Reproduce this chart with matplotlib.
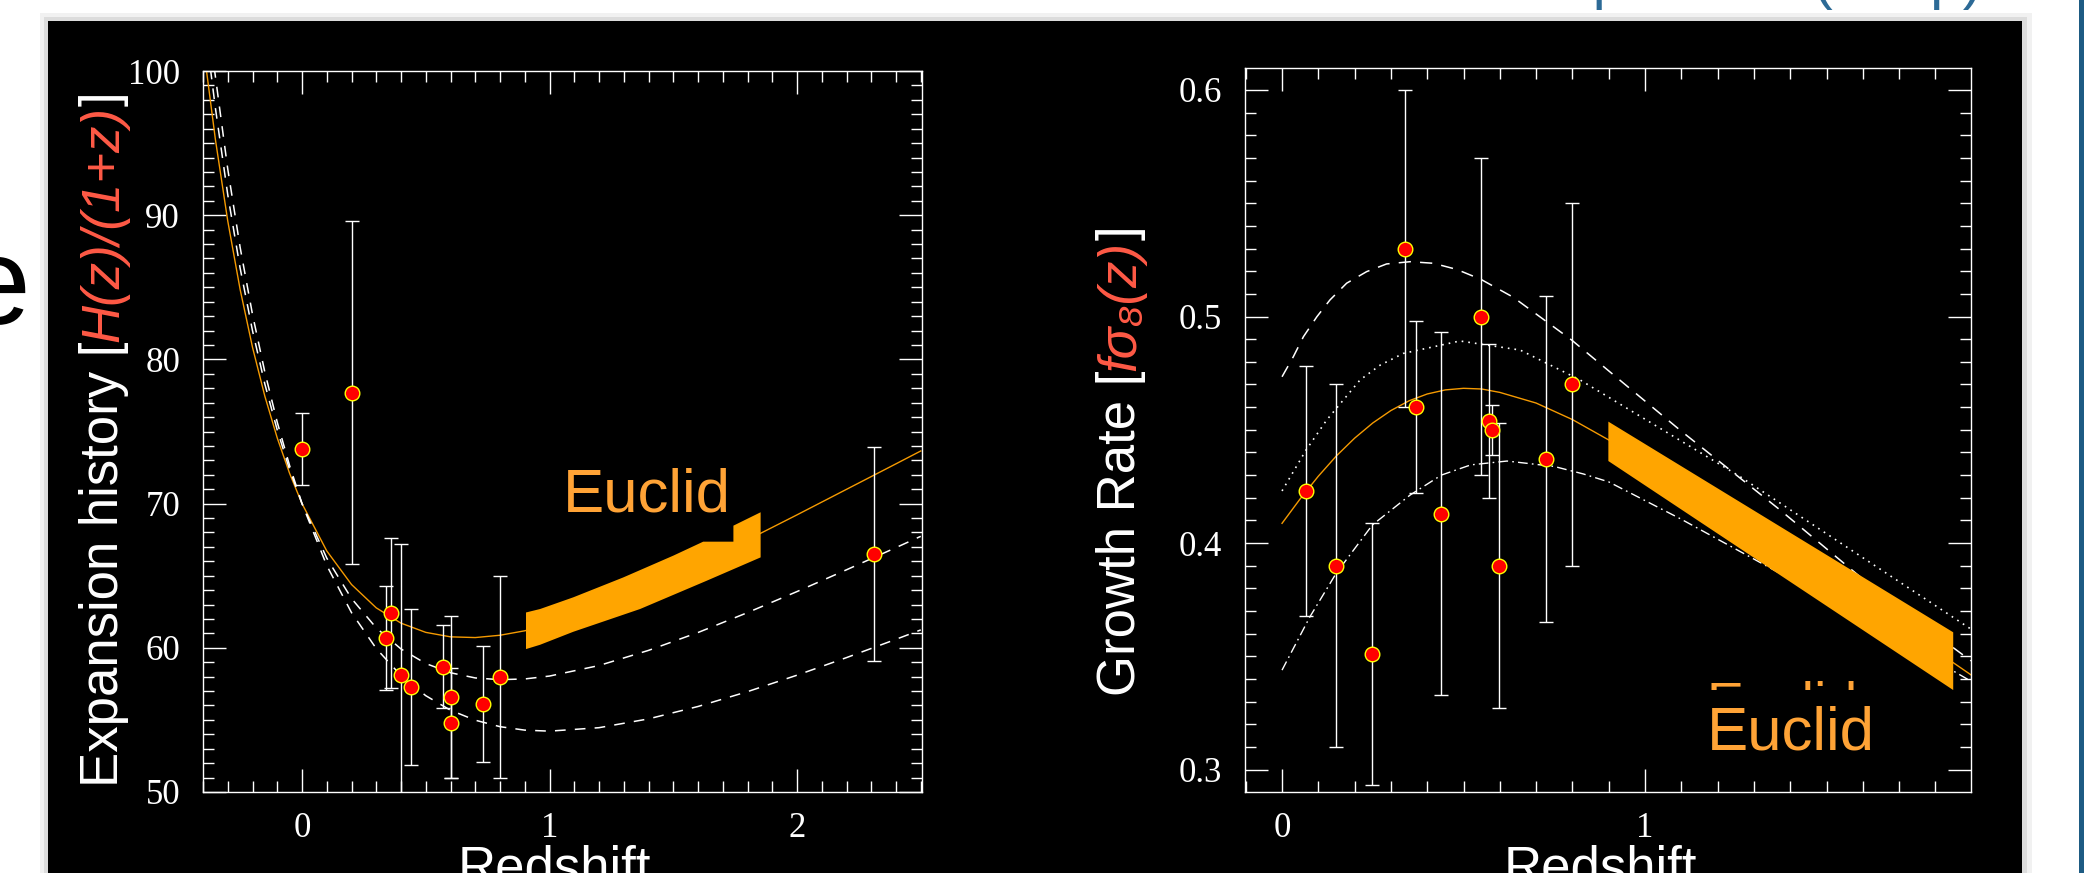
import matplotlib
matplotlib.use("Agg")
import matplotlib.pyplot as plt
from matplotlib.patches import Rectangle
from matplotlib.ticker import MultipleLocator
from matplotlib.transforms import Bbox, TransformedBbox

plt.rcParams["font.family"] = ["Liberation Sans", "DejaVu Sans"]

W, H = 2084, 873
RED = "#FF5A46"
ORANGE = "#FFA500"
LINE_ORANGE = "#F59A00"
TEXT_ORANGE = "#FFA336"
BLUE = "#2C6A96"

# --- left panel: expansion history H(z)/(1+z) ---
hz_z = [0.0, 0.20, 0.34, 0.36, 0.40, 0.44, 0.57, 0.60, 0.60, 0.73, 0.80, 2.31]
hz_val = [73.8, 77.7, 60.7, 62.4, 58.1, 57.3, 58.7, 56.6, 54.8, 56.1, 58.0, 66.5]
hz_err = [2.5, 11.9, 3.6, 5.2, 9.1, 5.4, 2.9, 5.6, 3.8, 4.0, 7.0, 7.4]

model_z = [-0.3, -0.25, -0.2, -0.15, -0.1, -0.05, 0.0, 0.1, 0.2, 0.3, 0.4, 0.5,
           0.6, 0.7, 0.8, 0.9, 1.0, 1.2, 1.4, 1.6, 1.8, 2.0, 2.2, 2.4, 2.5]
fid_z = [-0.39, -0.35] + model_z
fid_h = [100.57, 95.26, 89.60, 84.85, 80.84, 77.44, 74.55, 72.09, 70.00,
         66.72, 64.39, 62.77, 61.71, 61.07, 60.76, 60.71, 60.87, 61.18, 61.62,
         62.79, 64.21, 65.80, 67.48, 69.22, 70.99, 72.76, 73.65]
dashA_z = [-0.37, -0.35] + model_z
dashA_h = [100.16, 97.44, 91.42, 86.33, 81.99, 78.28, 75.10, 72.36, 70.00,
           66.22, 63.42, 61.38, 59.92, 58.91, 58.27, 57.91, 57.79, 57.84, 58.04,
           58.77, 59.82, 61.06, 62.44, 63.90, 65.41, 66.95, 67.73]
dashB_z = [-0.355] + model_z
dashB_h = [100.27, 93.20, 87.77, 83.12, 79.11, 75.64, 72.63, 70.00,
           65.71, 62.44, 59.95, 58.07, 56.68, 55.67, 54.98, 54.53, 54.29, 54.22,
           54.46, 55.07, 55.93, 56.96, 58.10, 59.32, 60.59, 61.24]

band_h_z = [0.905, 0.962, 1.096, 1.298, 1.500, 1.621, 1.743, 1.743, 1.853,
            1.853, 1.635, 1.366, 1.096, 0.962, 0.905]
band_h_v = [62.45, 62.69, 63.50, 64.88, 66.39, 67.36, 67.36, 68.47, 69.40,
            66.27, 64.65, 62.69, 61.11, 60.21, 59.91]

# --- right panel: growth rate f sigma8(z) ---
fs8_z = [0.066, 0.149, 0.249, 0.339, 0.369, 0.439, 0.548, 0.569, 0.579, 0.599, 0.728, 0.798]
fs8_val = [0.423, 0.390, 0.351, 0.530, 0.460, 0.413, 0.500, 0.454, 0.450, 0.390, 0.437, 0.470]
fs8_err = [0.055, 0.080, 0.058, 0.070, 0.038, 0.080, 0.070, 0.034, 0.011, 0.063, 0.072, 0.080]

gr_fid_z = [0.0, 0.05, 0.1, 0.15, 0.2, 0.25, 0.3, 0.35, 0.4, 0.45, 0.5, 0.55,
            0.6, 0.7, 0.8, 0.9, 1.849, 1.898]
gr_fid_f = [0.4087, 0.4195, 0.4295, 0.4385, 0.4463, 0.4530, 0.4585, 0.4628, 0.4658,
            0.4676, 0.4683, 0.4680, 0.4665, 0.4618, 0.4545, 0.4455, 0.3472, 0.3418]
gr_dash_z = [0.0, 0.031, 0.059, 0.096, 0.132, 0.178, 0.233, 0.288, 0.353, 0.417,
             0.481, 0.548, 0.637, 0.798, 0.936, 1.096, 1.372, 1.647, 1.898]
gr_dash_f = [0.4734, 0.4822, 0.4911, 0.4999, 0.5073, 0.5147, 0.5198, 0.5232, 0.5242, 0.5235,
             0.5208, 0.5164, 0.5085, 0.4896, 0.4712, 0.4499, 0.4146, 0.3778, 0.3480]
gr_dot_z = [0.0, 0.066, 0.123, 0.215, 0.27, 0.334, 0.49, 0.656, 0.821, 1.262, 1.898]
gr_dot_f = [0.423, 0.441, 0.4543, 0.472, 0.4785, 0.4837, 0.4892, 0.4852, 0.472, 0.4293, 0.362]
gr_dd_z = [0.0, 0.077, 0.149, 0.249, 0.353, 0.439, 0.52, 0.62, 0.75, 0.83, 0.90,
           1.10, 1.372, 1.65, 1.898]
gr_dd_f = [0.3439, 0.3675, 0.3866, 0.408, 0.4212, 0.430, 0.4345, 0.4362, 0.4338, 0.4305, 0.4270,
           0.4105, 0.3866, 0.362, 0.339]

band_f_z = [0.899, 1.849, 1.849, 0.899]
band_f_v = [0.4536, 0.3606, 0.3351, 0.4362]


def fx(x):
    return x / W


def fy(y):
    return 1 - y / H


fig = plt.figure(figsize=(W / 100, H / 100), dpi=100)
fig.patch.set_facecolor("white")

# slide background: shadow, black panel, blue edge
fig.add_artist(Rectangle((fx(40), 0), fx(2032) - fx(40), fy(13), transform=fig.transFigure,
                         color="#F1F1F1", lw=0, zorder=-12))
fig.add_artist(Rectangle((fx(44), 0), fx(2027) - fx(44), fy(17), transform=fig.transFigure,
                         color="#DCDCDC", lw=0, zorder=-11))
fig.add_artist(Rectangle((fx(48), 0), fx(2022) - fx(48), fy(21), transform=fig.transFigure,
                         color="black", lw=0, zorder=-10))
fig.add_artist(Rectangle((fx(2079), 0), fx(2084) - fx(2079), 1, transform=fig.transFigure,
                         color="#1D5B83", lw=0, zorder=-10))
fig.text(fx(-38), fy(324), "e", fontsize=89, color="black", ha="left", va="baseline")
fig.text(fx(1982), fy(-2), "Growth and expansion (deep)", fontsize=42, color=BLUE,
         ha="right", va="baseline")

axL = fig.add_axes([fx(203), fy(792), fx(922) - fx(203), fy(71) - fy(792)])
axR = fig.add_axes([fx(1245), fy(792), fx(1971) - fx(1245), fy(68) - fy(792)])

for ax in (axL, axR):
    ax.set_facecolor("black")
    for sp in ax.spines.values():
        sp.set_color("white")
        sp.set_linewidth(1.0)
    ax.tick_params(which="both", direction="in", top=True, right=True,
                   colors="white", width=1.0, labelsize=25,
                   labelfontfamily="Liberation Serif")
    ax.tick_params(which="major", length=16.5)
    ax.tick_params(which="minor", length=8)
    ax.tick_params(axis="x", pad=14.5)
    ax.tick_params(axis="y", pad=16.5)

# left panel
axL.set_xlim(-0.40, 2.505)
axL.set_ylim(50, 100)
axL.xaxis.set_major_locator(MultipleLocator(1))
axL.xaxis.set_minor_locator(MultipleLocator(0.1))
axL.yaxis.set_major_locator(MultipleLocator(10))
axL.yaxis.set_minor_locator(MultipleLocator(1))

axL.plot(fid_z, fid_h, color=LINE_ORANGE, lw=1.0, zorder=2)
axL.plot(dashA_z, dashA_h, color="white", lw=1.1, ls=(0, (7, 6)), zorder=2)
axL.plot(dashB_z, dashB_h, color="white", lw=1.1, ls=(0, (7, 6)), zorder=2)
axL.fill(band_h_z, band_h_v, color=ORANGE, lw=0, zorder=4)
axL.errorbar(hz_z, hz_val, yerr=hz_err, fmt="none", ecolor="white", elinewidth=1.0,
             capsize=4.7, capthick=1.0, zorder=3)
axL.plot(hz_z, hz_val, "o", ms=10.5, mfc="red", mec="yellow", mew=1.0, zorder=5)
axL.text(1.053, 72.52, "Euclid", color=TEXT_ORANGE, fontsize=44.5, ha="left", va="top")

# right panel
axR.set_xlim(-0.102, 1.898)
axR.set_ylim(0.2901, 0.6097)
axR.xaxis.set_major_locator(MultipleLocator(1))
axR.xaxis.set_minor_locator(MultipleLocator(0.1))
axR.yaxis.set_major_locator(MultipleLocator(0.1))
axR.yaxis.set_minor_locator(MultipleLocator(0.01))

axR.plot(gr_fid_z, gr_fid_f, color=LINE_ORANGE, lw=1.0, zorder=2)
axR.plot(gr_dash_z, gr_dash_f, color="white", lw=1.1, ls=(0, (8, 6)), zorder=2)
axR.plot(gr_dot_z, gr_dot_f, color="white", lw=1.2, ls=(0, (1, 3)), zorder=2)
axR.plot(gr_dd_z, gr_dd_f, color="white", lw=1.0, ls=(0, (7, 3, 1.2, 3)), zorder=2)
axR.fill(band_f_z, band_f_v, color=ORANGE, lw=0, zorder=4)
axR.errorbar(fs8_z, fs8_val, yerr=fs8_err, fmt="none", ecolor="white", elinewidth=1.0,
             capsize=4.7, capthick=1.0, zorder=3)
axR.plot(fs8_z, fs8_val, "o", ms=10.5, mfc="red", mec="yellow", mew=1.0, zorder=5)

ghost = axR.text(1.170, 0.3393, "Euclid", color=TEXT_ORANGE, fontsize=40, ha="left",
                 va="top", clip_on=True)
ghost.set_clip_box(TransformedBbox(Bbox([[1.0, 0.3350], [1.9, 0.345]]), axR.transData))
axR.text(1.170, 0.3285, "Euclid", color=TEXT_ORANGE, fontsize=44.5, ha="left", va="top")


def stacked_label(ax, x, y, parts, size=38):
    # rotated label built from pieces so part of it can be coloured
    txt, col, sty = parts[0]
    t = fig.text(x, y, txt, color=col, style=sty, rotation=90, ha="right",
                 va="bottom", fontsize=size)
    for txt, col, sty in parts[1:]:
        t = ax.annotate(txt, xy=(1, 1), xycoords=t, color=col, style=sty,
                        rotation=90, ha="right", va="bottom", fontsize=size)


stacked_label(axL, fx(129), fy(787), [("Expansion history [", "white", "normal"),
                                      ("H(z)/(1+z)", RED, "italic"),
                                      ("]", "white", "normal")])
stacked_label(axR, fx(1146), fy(696), [("Growth Rate [", "white", "normal"),
                                       ("f\u03c3\u2088(z)", RED, "italic"),
                                       ("]", "white", "normal")])

fig.text(fx(554), fy(845), "Redshift", color="white", fontsize=38, ha="center", va="top")
fig.text(fx(1600), fy(845), "Redshift", color="white", fontsize=38, ha="center", va="top")

fig.savefig("out.png", dpi=100, facecolor="white")
